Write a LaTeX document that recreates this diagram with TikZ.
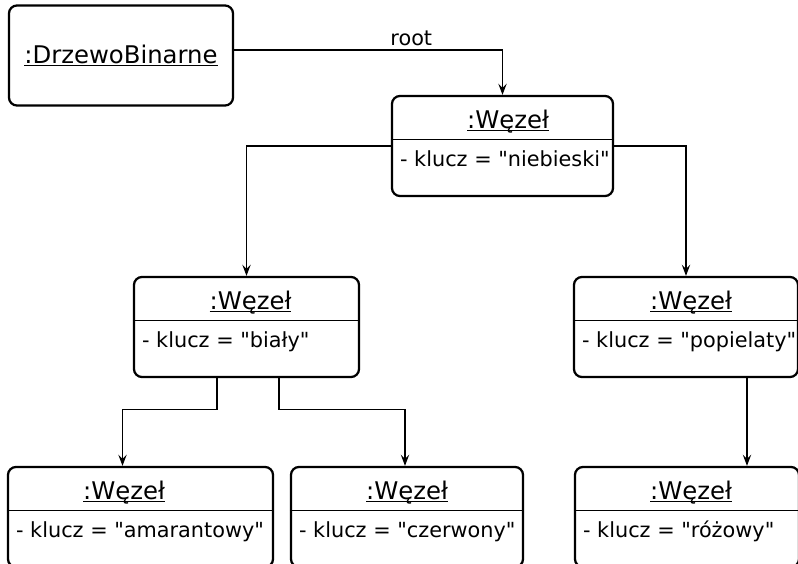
\documentclass[tikz,border=0pt]{standalone}
\usepackage{fontspec}
\setmainfont{DejaVu Sans}
\usetikzlibrary{arrows.meta}
\newcommand{\uln}[1]{\setbox0\hbox{#1}\rlap{\rule[-1.6pt]{\wd0}{0.8pt}}\box0}
\newcommand{\qq}{\textquotedbl}
\tikzstyle{object} = [rectangle, rounded corners=0.2cm, draw=black, line width=1.6pt, minimum height=2.5cm, inner sep=0pt]
\tikzstyle{objtitle} = [font=\fontsize{17.3}{20}\selectfont, inner sep=0pt, anchor=base]
\tikzstyle{objattr} = [font=\fontsize{14.8}{18}\selectfont, inner sep=0pt, anchor=base west]
\tikzstyle{partline} = [line width=0.8pt]
\tikzstyle{arrow} = [line width=0.9pt, -{Stealth[length=8pt,width=6pt,inset=3pt]}]
\begin{document}
\begin{tikzpicture}[x=0.025cm, y=-0.025cm]
		\useasboundingbox (0,0) rectangle (798,564);
		\node (drzewo) [object, minimum width=5.6cm, font=\fontsize{17.3}{20}\selectfont] at (121,55.5) {\uln{:DrzewoBinarne}};
		\node (n1) [object, minimum width=5.525cm] at (502.5,146) {};
		\node (n2) [object, minimum width=5.625cm] at (246.5,327) {};
		\node (n3) [object, minimum width=5.6cm] at (686,327) {};
		\node (n4) [object, minimum width=6.625cm] at (140.5,517) {};
		\node (n5) [object, minimum width=5.8cm] at (407,517) {};
		\node (n6) [object, minimum width=5.6cm] at (687,517) {};
		% titles and attributes
		\node (t1) [objtitle] at ([shift={(5.5,34)}]n1.north) {\uln{:Węzeł}};
		\node (t2) [objtitle] at ([shift={(4,34)}]n2.north) {\uln{:Węzeł}};
		\node (t3) [objtitle] at ([shift={(5,34)}]n3.north) {\uln{:Węzeł}};
		\node (t4) [objtitle] at ([shift={(-16.5,34)}]n4.north) {\uln{:Węzeł}};
		\node (t5) [objtitle] at ([shift={(0,34)}]n5.north) {\uln{:Węzeł}};
		\node (t6) [objtitle] at ([shift={(4,34)}]n6.north) {\uln{:Węzeł}};
		\node (a1) [objattr] at ([shift={(9,72)}]n1.north west) {- klucz = \qq niebieski\qq};
		\node (a2) [objattr] at ([shift={(9,72)}]n2.north west) {- klucz = \qq biały\qq};
		\node (a3) [objattr] at ([shift={(9,72)}]n3.north west) {- klucz = \qq popielaty\qq};
		\node (a4) [objattr] at ([shift={(9,72)}]n4.north west) {- klucz = \qq amarantowy\qq};
		\node (a5) [objattr] at ([shift={(9,72)}]n5.north west) {- klucz = \qq czerwony\qq};
		\node (a6) [objattr] at ([shift={(9,72)}]n6.north west) {- klucz = \qq różowy\qq};
		\foreach \n in {n1,n2,n3,n4,n5,n6}
			\draw [partline] ([shift={(0,45)}]\n.north west) -- ([shift={(0,45)}]\n.north east);
		% links
		\draw [arrow] ([shift={(0,-5.5)}]drzewo.east) -| node[pos=0.33, above, inner sep=2.5pt, font=\fontsize{14.8}{18}\selectfont] {root} (n1.north);
		\draw [arrow] (n1.west) -| (n2.north);
		\draw [arrow] (n1.east) -| (n3.north);
		\draw [arrow] ([shift={(-29.5,0)}]n2.south) -- ++(0,31) -| ([shift={(-18,0)}]n4.north);
		\draw [arrow] ([shift={(32.5,0)}]n2.south) -- ++(0,31) -| ([shift={(-2,0)}]n5.north);
		\draw [arrow] ([shift={(61,0)}]n3.south) -- ([shift={(60,0)}]n6.north);
	\end{tikzpicture}
\end{document}
